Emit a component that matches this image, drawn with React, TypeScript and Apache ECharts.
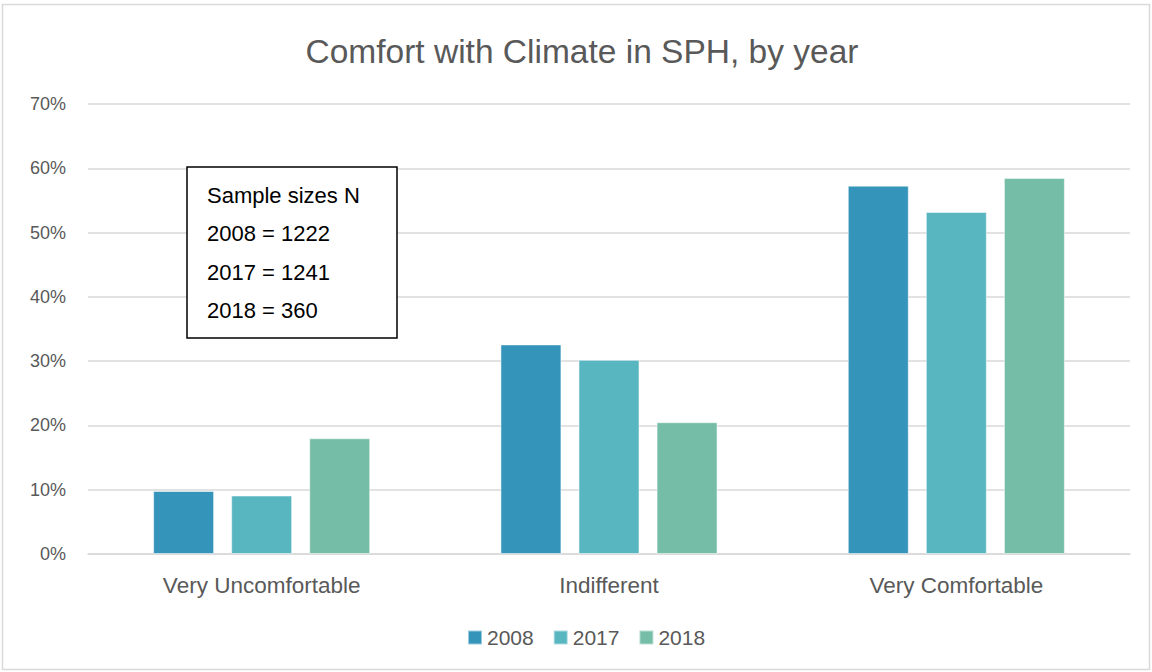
import React, { useEffect, useRef } from "react";
import * as echarts from "echarts";

const categories = ["Very Uncomfortable", "Indifferent", "Very Comfortable"];
const years = ["2008", "2017", "2018"];
const values2008 = [9.8, 32.6, 57.3];
const values2017 = [9.1, 30.2, 53.2];
const values2018 = [18.0, 20.5, 58.5];
const seriesValues = [values2008, values2017, values2018];
const colors = ["#3494BA", "#58B6C0", "#75BDA7"];
const noteLines = ["Sample sizes N", "2008 = 1222", "2017 = 1241", "2018 = 360"];
const FONT = "Liberation Sans, Arial, sans-serif";

export default function App() {
  const ref = useRef<HTMLDivElement>(null);
  useEffect(() => {
    document.body.style.margin = "0";
    const chart = echarts.init(ref.current!, null, { renderer: "svg" });
    chart.setOption({
      animation: false,
      backgroundColor: "#ffffff",
      title: {
        text: "Comfort with Climate in SPH, by year",
        left: 577,
        textAlign: "center",
        top: 29,
        textStyle: { fontFamily: FONT, fontSize: 33.5, fontWeight: "normal", color: "#595959" },
      },
      legend: {
        data: years,
        top: 627,
        left: 467,
        padding: 0,
        icon: "rect",
        itemWidth: 14,
        itemHeight: 14,
        itemGap: 19,
        textStyle: { fontFamily: FONT, fontSize: 21, color: "#595959" },
      },
      grid: { left: 88, right: 22, top: 104, bottom: 118 },
      xAxis: {
        type: "category",
        data: categories,
        axisLine: { lineStyle: { color: "#d9d9d9", width: 1.5 } },
        axisTick: { show: false },
        axisLabel: { fontFamily: FONT, fontSize: 22.5, color: "#595959", margin: 20 },
      },
      yAxis: {
        type: "value",
        min: 0,
        max: 70,
        interval: 10,
        axisLine: { show: false },
        axisTick: { show: false },
        splitLine: { lineStyle: { color: "#d9d9d9", width: 1.5 } },
        axisLabel: {
          fontFamily: FONT,
          fontSize: 18,
          color: "#595959",
          margin: 22,
          formatter: (v: number) => v + "%",
        },
      },
      series: years.map((y, i) => ({
        name: y,
        type: "bar",
        data: seriesValues[i],
        barGap: "28%",
        barCategoryGap: "37.5%",
        itemStyle: { color: colors[i], borderColor: "rgba(255,255,255,0.5)", borderWidth: 1 },
      })),
      graphic: [
        {
          type: "rect",
          shape: { x: 2.5, y: 4.5, width: 1147, height: 665 },
          style: { fill: "none", stroke: "#d9d9d9", lineWidth: 1.5 },
          silent: true,
        },
        {
          type: "rect",
          shape: { x: 187, y: 167, width: 210, height: 171 },
          style: { fill: "#ffffff", stroke: "#000000", lineWidth: 1.5 },
          z: 100,
        },
        ...noteLines.map((t, i) => ({
          type: "text",
          x: 207,
          y: 195 + i * 38.5,
          z: 101,
          style: {
            text: t,
            fill: "#000000",
            font: `22px ${FONT}`,
            textVerticalAlign: "middle",
            verticalAlign: "middle",
          },
        })),
      ],
    });
    return () => chart.dispose();
  }, []);
  return <div ref={ref} style={{ width: 1152, height: 672 }} />;
}
